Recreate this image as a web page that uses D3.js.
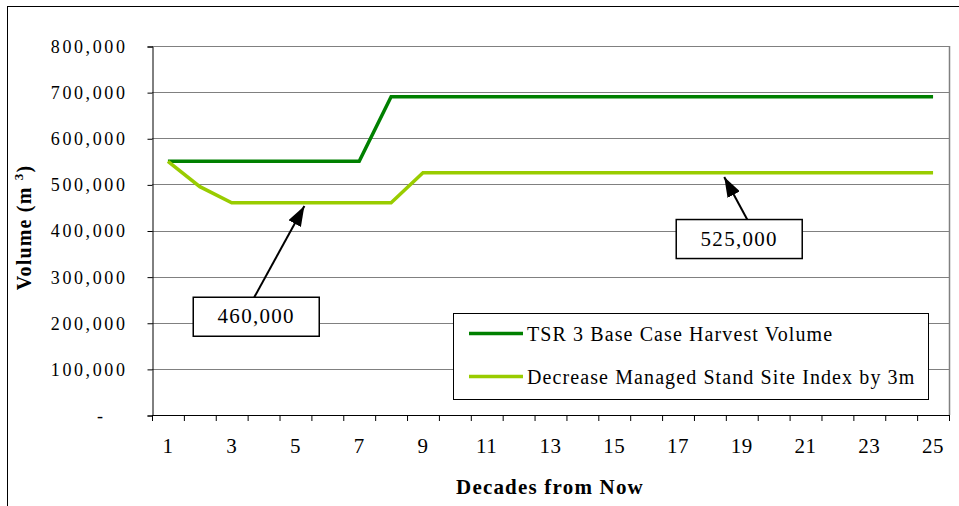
<!DOCTYPE html>
<html>
<head>
<meta charset="utf-8">
<script src="https://cdn.jsdelivr.net/npm/d3@7"></script>
<style>
  html, body { margin: 0; padding: 0; background: #fff; }
  svg { display: block; }
  text { font-family: "Liberation Serif", "Times New Roman", serif; fill: #000; }
</style>
</head>
<body>
<svg id="chart" width="959" height="506"></svg>
<script>
// ---- data ----
const decades = d3.range(1, 26);
const tickDecades = [1, 3, 5, 7, 9, 11, 13, 15, 17, 19, 21, 23, 25];
const yTicks = [0, 100000, 200000, 300000, 400000, 500000, 600000, 700000, 800000];
const seriesNames = ["TSR 3 Base Case Harvest Volume", "Decrease Managed Stand Site Index by 3m"];
const baseCase = [550000, 550000, 550000, 550000, 550000, 550000, 550000,
  690000, 690000, 690000, 690000, 690000, 690000, 690000, 690000, 690000,
  690000, 690000, 690000, 690000, 690000, 690000, 690000, 690000, 690000];
const decreaseSI = [550000, 495000, 460000, 460000, 460000, 460000, 460000, 460000,
  525000, 525000, 525000, 525000, 525000, 525000, 525000, 525000, 525000,
  525000, 525000, 525000, 525000, 525000, 525000, 525000, 525000];
const seriesColors = ["#008000", "#99CC00"];
// annotations: label, arrow tip (decade, value), box centre (decade, value)
const annoLabels = ["460,000", "525,000"];
const annoTipDecade = [5.28, 18.45];
const annoTipValue = [453000, 516000];
const annoBoxDecade = [3.77, 18.92];
const annoBoxValue = [213000, 381500];

// ---- layout ----
const svg = d3.select("#chart");
const plot = { left: 152, right: 949, top: 46, bottom: 415 };

const x = d3.scaleBand().domain(decades).range([plot.left, plot.right]).padding(0);
const xc = d => x(d) + x.bandwidth() / 2;
const xl = d3.scaleLinear().domain([0.5, 25.5]).range([plot.left, plot.right]);
const y = d3.scaleLinear().domain([0, 800000]).range([plot.bottom, plot.top]);

// outer frame
svg.append("rect").attr("x", 7.5).attr("y", 6.5).attr("width", 1000).attr("height", 1000)
  .attr("fill", "none").attr("stroke", "#000").attr("stroke-width", 1);

// gridlines
svg.append("g").selectAll("line").data(yTicks.filter(v => v > 0)).join("line")
  .attr("x1", plot.left).attr("x2", plot.right)
  .attr("y1", d => Math.round(y(d)) + 0.5).attr("y2", d => Math.round(y(d)) + 0.5)
  .attr("stroke", "#808080").attr("stroke-width", 1);
svg.append("line").attr("x1", plot.right + 0.5).attr("x2", plot.right + 0.5)
  .attr("y1", plot.top).attr("y2", plot.bottom).attr("stroke", "#808080").attr("stroke-width", 1.5);

// y axis
const fmt = d3.format(",");
const yAxis = d3.axisLeft(y).tickValues(yTicks).tickSize(5).tickPadding(20)
  .tickFormat(d => d === 0 ? "-" : fmt(d));
const gy = svg.append("g").attr("transform", `translate(${plot.left + 0.5},0.5)`).call(yAxis);
gy.attr("font-family", null);
gy.select(".domain").attr("stroke", "#000");
gy.selectAll(".tick line").attr("stroke", "#000");
gy.selectAll(".tick text")
  .style("font-size", "18px")
  .style("letter-spacing", "2.6px").attr("fill", "#000")
  .attr("dy", "0.33em");
gy.selectAll(".tick").filter(d => d === 0).select("text").attr("x", -47);

// x axis (labels at centres, ticks at category boundaries)
const xAxis = d3.axisBottom(x).tickValues(tickDecades).tickSize(0).tickPadding(23);
const gx = svg.append("g").attr("transform", `translate(0,${plot.bottom + 0.5})`).call(xAxis);
gx.attr("font-family", null);
gx.select(".domain").remove();
gx.selectAll(".tick text")
  .style("font-size", "21px")
  .style("letter-spacing", "0.6px").attr("fill", "#000");
svg.append("line").attr("x1", plot.left).attr("x2", plot.right + 1)
  .attr("y1", plot.bottom + 0.5).attr("y2", plot.bottom + 0.5).attr("stroke", "#000");
svg.append("g").selectAll("line").data(decades.concat([26])).join("line")
  .attr("x1", d => (d === 26 ? plot.right : x(d)) + 0.5)
  .attr("x2", d => (d === 26 ? plot.right : x(d)) + 0.5)
  .attr("y1", plot.bottom).attr("y2", plot.bottom + 6)
  .attr("stroke", "#000");

// lines
const seriesData = [baseCase, decreaseSI];
const line = d3.line().x((d, i) => xc(decades[i])).y(d => y(d));
svg.append("g").selectAll("path").data(seriesData).join("path")
  .attr("d", d => line(d))
  .attr("fill", "none")
  .attr("stroke", (d, i) => seriesColors[i])
  .attr("stroke-width", 3.5)
  .attr("stroke-linejoin", "miter");

// axis titles
svg.append("text").attr("x", 550).attr("y", 494).attr("text-anchor", "middle")
  .style("font-size", "21px").style("font-weight", "bold").style("letter-spacing", "1.2px")
  .text("Decades from Now");
const yt = svg.append("text")
  .attr("transform", `translate(31,${(plot.top + plot.bottom) / 2 - 3}) rotate(-90)`)
  .attr("text-anchor", "middle")
  .style("font-size", "20px").style("font-weight", "bold").style("letter-spacing", "1.2px");
yt.append("tspan").text("Volume (m ");
yt.append("tspan").attr("dy", -8).style("font-size", "13px").text("3");
yt.append("tspan").attr("dy", 8).text(")");

// legend
const leg = { x: 453, y: 313, w: 475, h: 86 };
svg.append("rect").attr("x", leg.x + 0.5).attr("y", leg.y + 0.5).attr("width", leg.w).attr("height", leg.h)
  .attr("fill", "#fff").attr("stroke", "#000").attr("stroke-width", 1);
const li = svg.append("g").selectAll("g").data(seriesNames).join("g")
  .attr("transform", (d, i) => `translate(${leg.x},${leg.y + 20.5 + i * 43})`);
li.append("line").attr("x1", 16).attr("x2", 70).attr("y1", 0).attr("y2", 0)
  .attr("stroke", (d, i) => seriesColors[i]).attr("stroke-width", 3.5);
li.append("text").attr("x", 74).attr("y", 7.5)
  .style("font-size", "20px").style("letter-spacing", "1.1px").text(d => d);

// annotations
const defs = svg.append("defs");
defs.append("marker").attr("id", "arrow").attr("markerUnits", "userSpaceOnUse")
  .attr("viewBox", "0 0 20 14").attr("refX", 20).attr("refY", 7)
  .attr("markerWidth", 20).attr("markerHeight", 14).attr("orient", "auto")
  .append("path").attr("d", "M0,0 L20,7 L0,14 Z").attr("fill", "#000");
const boxW = 126, boxH = 39;
const anno = svg.append("g").selectAll("g").data(annoLabels).join("g");
anno.append("line")
  .attr("x1", (d, i) => xl(annoBoxDecade[i]) + (i === 0 ? -2 : 8))
  .attr("y1", (d, i) => y(annoBoxValue[i]) - boxH / 2)
  .attr("x2", (d, i) => xl(annoTipDecade[i]))
  .attr("y2", (d, i) => y(annoTipValue[i]))
  .attr("stroke", "#000").attr("stroke-width", 2)
  .attr("marker-end", "url(#arrow)");
anno.append("rect")
  .attr("x", (d, i) => xl(annoBoxDecade[i]) - boxW / 2)
  .attr("y", (d, i) => y(annoBoxValue[i]) - boxH / 2)
  .attr("width", boxW).attr("height", boxH)
  .attr("fill", "#fff").attr("stroke", "#000").attr("stroke-width", 1.5);
anno.append("text")
  .attr("x", (d, i) => xl(annoBoxDecade[i]))
  .attr("y", (d, i) => y(annoBoxValue[i]) + 6.5)
  .attr("text-anchor", "middle")
  .style("font-size", "21px").style("letter-spacing", "1.3px").text(d => d);
</script>
</body>
</html>
